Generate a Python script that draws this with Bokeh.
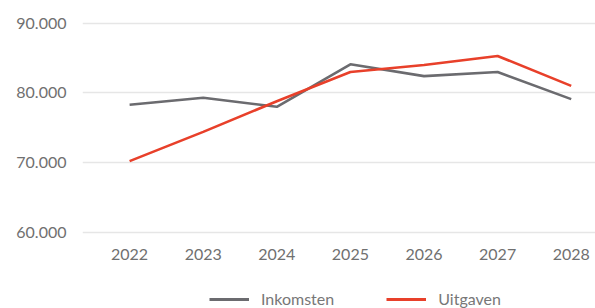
from bokeh.plotting import figure
from bokeh.layouts import column
from bokeh.models import FixedTicker, CustomJSTickFormatter, Legend, LegendItem, Range1d
from bokeh.embed import file_html
from bokeh.resources import INLINE

years = [2022, 2023, 2024, 2025, 2026, 2027, 2028]
inkomsten = [78300, 79300, 78000, 84100, 82400, 83000, 79100]
uitgaven = [70200, 74400, 78800, 83000, 84000, 85300, 81000]
y_ticks = [60000, 70000, 80000, 90000]
series_names = ["Inkomsten", "Uitgaven"]
series_colors = ["#6b6b6f", "#e8402a"]

p = figure(width=595, height=270, output_backend="svg", toolbar_location=None,
           x_range=Range1d(2021.36, 2028.33), y_range=Range1d(59670, 91249),
           min_border_left=82, min_border_right=0, min_border_top=14, min_border_bottom=36)
p.outline_line_color = None

for vals, col in zip([inkomsten, uitgaven], series_colors):
    p.line(years, vals, line_color=col, line_width=2.6)

p.xgrid.grid_line_color = None
p.ygrid.grid_line_color = "#e6e6e6"
p.ygrid.grid_line_width = 1.5
p.ygrid.ticker = FixedTicker(ticks=y_ticks)

for ax in (p.xaxis[0], p.yaxis[0]):
    ax.axis_line_color = None
    ax.major_tick_line_color = None
    ax.minor_tick_line_color = None
    ax.major_label_text_font = "Lato"
    ax.major_label_text_font_size = "16px"
    ax.major_label_text_color = "#707070"
    ax.major_label_standoff = 10

p.xaxis.ticker = FixedTicker(ticks=years)
p.yaxis.ticker = FixedTicker(ticks=y_ticks)
p.yaxis.formatter = CustomJSTickFormatter(code="return Math.round(tick).toString().replace(/\\B(?=(\\d{3})+(?!\\d))/g, '.');")
p.xaxis.major_label_standoff = 8

# legend strip (separate figure below the chart)
pl = figure(width=595, height=38, output_backend="svg", toolbar_location=None,
            x_range=Range1d(0, 1), y_range=Range1d(0, 1),
            x_axis_location=None, y_axis_location=None,
            min_border_left=0, min_border_right=0, min_border_top=0, min_border_bottom=0)
pl.outline_line_color = None
pl.grid.visible = False
items = []
for name, col, vals in zip(series_names, series_colors, [inkomsten, uitgaven]):
    # same series, drawn outside the visible range: only its legend swatch shows
    r = pl.line(years, vals, line_color=col, line_width=3)
    items.append(LegendItem(label=name, renderers=[r]))

legend = Legend(items=items, orientation="horizontal", location=(127, 0),
                label_text_font="Lato", label_text_font_size="16px", label_text_color="#777777",
                glyph_width=40, glyph_height=16, label_standoff=12, spacing=52,
                border_line_color=None, background_fill_alpha=0, padding=0, margin=0)
pl.add_layout(legend, "center")

layout = column(p, pl, spacing=0)
open("out.html", "w").write(file_html(layout, INLINE))
